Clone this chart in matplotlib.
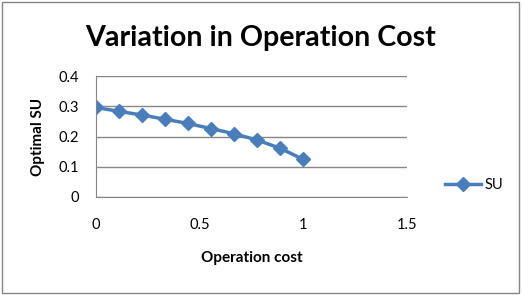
import matplotlib.pyplot as plt
from matplotlib.patches import Rectangle

cost = [0, 0.111, 0.222, 0.333, 0.444, 0.556, 0.667, 0.778, 0.889, 1.0]
su = [0.296, 0.283, 0.271, 0.257, 0.243, 0.226, 0.209, 0.188, 0.161, 0.124]
xticks = [0, 0.5, 1, 1.5]
yticks = [0, 0.1, 0.2, 0.3, 0.4]

plt.rcParams['font.family'] = ['Lato', 'DejaVu Sans']

fig = plt.figure(figsize=(5.22, 2.95), dpi=100)
fig.patches.append(Rectangle((0.004, 0.006), 0.990, 0.988, transform=fig.transFigure,
                             fill=False, edgecolor='#868686', linewidth=1))
ax = fig.add_axes([96 / 522, 1 - 197 / 295, (407 - 96) / 522, (197 - 76) / 295])

ax.plot(cost, su, color='#4a7ebb', linewidth=2.5, marker='D', markersize=7, label='SU')
ax.set_xlim(0, 1.5)
ax.set_ylim(0, 0.4)
ax.set_xticks(xticks)
ax.set_xticklabels(['0', '0.5', '1', '1.5'])
ax.set_yticks(yticks)
ax.set_yticklabels(['0', '0.1', '0.2', '0.3', '0.4'])
ax.yaxis.grid(True, color='#868686', linewidth=1)
ax.set_axisbelow(True)
for s in ['top', 'right']:
    ax.spines[s].set_visible(False)
for s in ['left', 'bottom']:
    ax.spines[s].set_color('#868686')
ax.tick_params(axis='both', labelcolor='black', labelsize=10.5, length=0)
ax.tick_params(axis='x', pad=15)
ax.tick_params(axis='y', pad=12)

ax.set_xlabel('Operation cost', fontsize=11, fontweight='bold', labelpad=14)
ax.set_ylabel('Optimal SU', fontsize=11, fontweight='bold', labelpad=10)
fig.text(0.5, 0.872, 'Variation in Operation Cost', ha='center', va='center',
         fontsize=20.6, fontweight='bold')

ax.legend(loc='center left', bbox_to_anchor=(1.08, 0.1), frameon=False, fontsize=10.5,
          handlelength=2.5, handletextpad=0.2)

fig.savefig('out.png', dpi=100)
